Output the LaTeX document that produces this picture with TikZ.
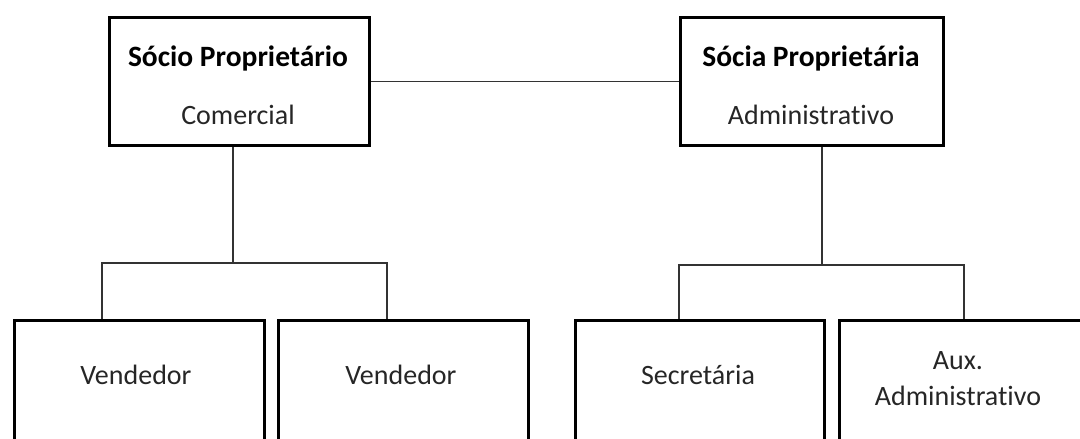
\documentclass[tikz,border=0pt]{standalone}
\usepackage{fontspec}
\setmainfont{Carlito}[RawFeature={-liga}]
\begin{document}
\begin{tikzpicture}[x=1pt,y=-1pt,
  box/.style={draw=black,line width=3.2pt,rectangle,inner sep=0pt,anchor=north west},
  conn/.style={draw=black!80,line width=1.3pt},
  lbl/.style={font=\fontsize{28}{33}\selectfont,text=black!85,inner sep=0pt,align=center},
  blbl/.style={font=\fontsize{29.5}{33}\selectfont\bfseries,text=black,inner sep=0pt}]
\useasboundingbox (0,0) rectangle (1080,439);
\clip (0,0) rectangle (1080,439);
% top boxes
\node[box,minimum width=260pt,minimum height=128pt] (tl) at (108,16) {};
\node[box,minimum width=263pt,minimum height=128pt] (tr) at (679,16) {};
% bottom boxes
\node[box,minimum width=250pt,minimum height=160pt] (b1) at (13,319) {};
\node[box,minimum width=250pt,minimum height=160pt] (b2) at (277,319) {};
\node[box,minimum width=249pt,minimum height=160pt] (b3) at (574,319) {};
\node[box,minimum width=260pt,minimum height=160pt] (b4) at (838,319) {};
% texts
\node[blbl] (tlt) at (238,58) {Sócio Proprietário};
\node[lbl] (tls) at (238,115) {Comercial};
\node[blbl] (trt) at (811,58) {Sócia Proprietária};
\node[lbl] (trs) at (811,115) {Administrativo};
\node[lbl] (b1t) at (136,375) {Vendedor};
\node[lbl] (b2t) at (401,375) {Vendedor};
\node[lbl] (b3t) at (698,375) {Secretária};
\node[lbl] (b4t) at (958,379) {Aux.\\[3pt]Administrativo};
% junction coordinates
\coordinate (lj) at (233,263);
\coordinate (ll) at (102,263);
\coordinate (lr) at (387,263);
\coordinate (rj) at (822,265);
\coordinate (rl) at (679,265);
\coordinate (rr) at (964,265);
% connectors
\draw[conn] (tl.east) -- (tr.west);
\draw[conn] (tl.south -| lj) -- (lj);
\draw[conn] (b1.north -| ll) -- (ll) -- (lr) -- (b2.north -| lr);
\draw[conn] (tr.south -| rj) -- (rj);
\draw[conn] (b3.north -| rl) -- (rl) -- (rr) -- (b4.north -| rr);
\end{tikzpicture}
\end{document}
